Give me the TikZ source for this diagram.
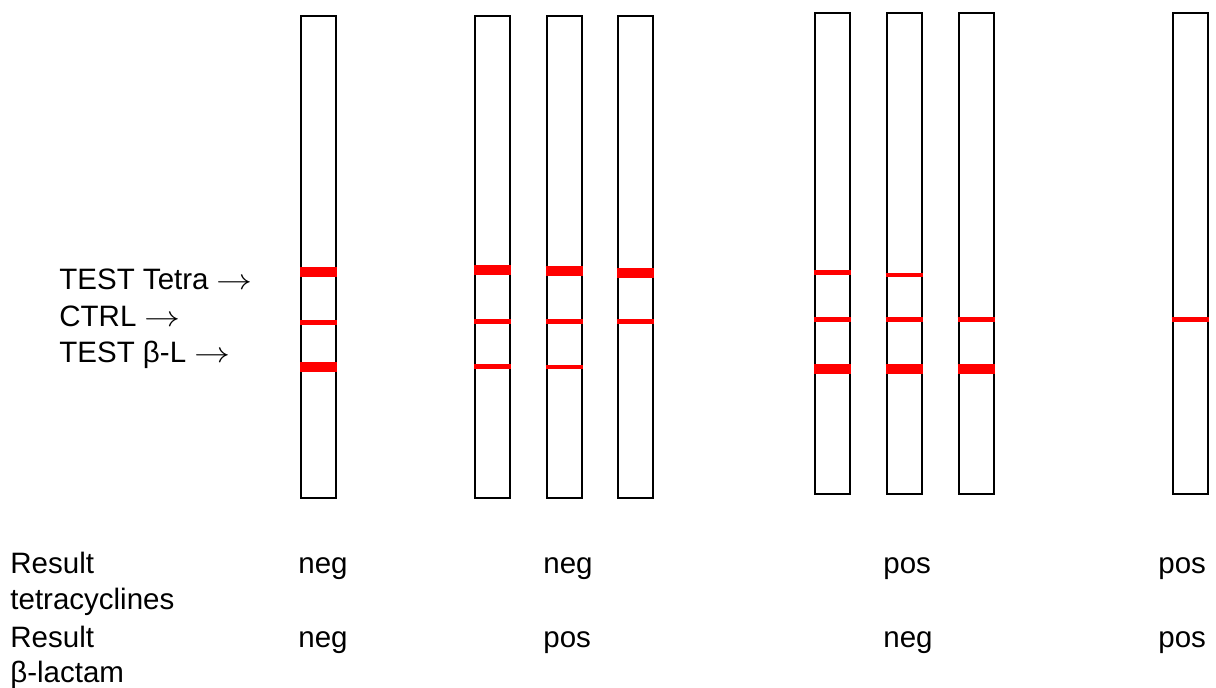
\documentclass[tikz,border=0pt]{standalone}
\usepackage{fontspec}
\setmainfont{Liberation Sans}
\usetikzlibrary{calc,positioning}
\definecolor{bandred}{RGB}{255,0,0}
\newcommand{\rarr}{\scalebox{1.25}[1.0]{$\rightarrow$}}
\tikzstyle{strip}=[draw=black,line width=1pt,rectangle,minimum width=17.5pt,inner sep=0pt]
\tikzstyle{band}=[draw=bandred]
\tikzstyle{lbl}=[anchor=base west,inner sep=0pt,font=\fontsize{14.75}{18.5}\selectfont]

\begin{document}
\begin{tikzpicture}[x=0.5pt,y=-0.5pt]
\def\rowA{574}
\def\rowB{648}
\def\linesep{36}

    \useasboundingbox (0,0) rectangle (1216,688);

    % strips
    \foreach \name / \x in {1/318.5,2/492.5,3/564,4/635}
        \path node[strip, minimum height=241pt] (S\name) at (\x,257) {};
    \foreach \name / \x in {5/832.5,6/904,7/976,8/1190}
        \path node[strip, minimum height=240.5pt] (S\name) at (\x,253.5) {};

    % bands: strip / y / thickness
    \foreach \s / \y / \w in {1/272/5pt, 1/322.5/2.5pt, 1/367/5pt,
                              2/270/5pt, 2/322/2.5pt, 2/367/2.5pt,
                              3/271/5pt, 3/322/2.5pt, 3/367/2pt,
                              4/273/5pt, 4/322/2.5pt,
                              5/272.5/2.5pt, 5/319.5/2.5pt, 5/369/5pt,
                              6/275/2pt, 6/319.5/2.5pt, 6/369/5pt,
                              7/320/2.5pt, 7/369/5pt,
                              8/320/2.5pt}
        \draw[band, line width=\w] (S\s.west |- 0,\y) -- (S\s.east |- 0,\y);

    \node[lbl] (tetraLbl) at (59,290) {TEST Tetra \rarr};
    \node[lbl] (ctrlLbl) at (59,327) {CTRL \rarr};
    \node[lbl] (betaLbl) at (59,363) {TEST β-L \rarr};

    \node[lbl] (resTetra) at (10,\rowA) {Result};
    \node[lbl] (resTetraB) at (10,\rowA+\linesep) {tetracyclines};
    \node[lbl] (resBeta) at (10,\rowB) {Result};
    \node[lbl] (resBetaB) at (10,\rowB+\linesep-1) {β-lactam};

    \foreach \name / \x / \ta / \tb in {1/298/neg/neg, 2/543/neg/pos, 3/883/pos/neg, 4/1158/pos/pos} {
        \node[lbl] (T\name) at (\x,\rowA) {\ta};
        \node[lbl] (B\name) at (\x,\rowB) {\tb};
    }
\end{tikzpicture}
\end{document}
